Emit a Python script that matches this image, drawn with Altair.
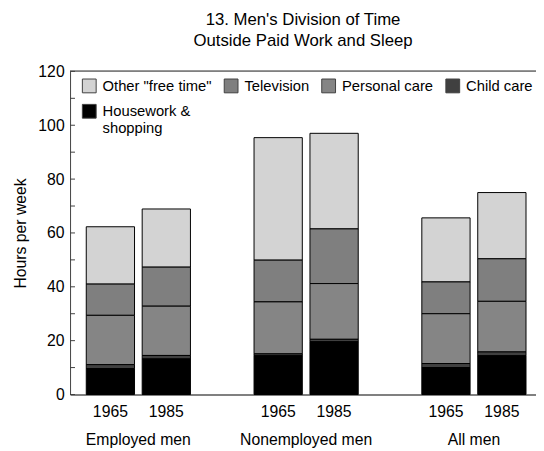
import altair as alt
import pandas as pd

groups = ["Employed men", "Nonemployed men", "All men"]
years = ["1965", "1985"]
categories = ['Other "free time"', "Television", "Personal care", "Child care", "Housework & shopping"]
colors = ["#d3d3d3", "#7f7f7f", "#858585", "#404040", "#000000"]

# values per bar: Employed 1965, Employed 1985, Nonemployed 1965, Nonemployed 1985, All 1965, All 1985
housework = [9.6, 13.2, 14.4, 19.6, 10.0, 14.4]
child_care = [1.5, 1.3, 0.7, 0.9, 1.5, 1.4]
personal_care = [18.3, 18.3, 19.3, 20.7, 18.5, 18.8]
television = [11.6, 14.5, 15.5, 20.3, 11.8, 15.8]
other_free = [21.3, 21.6, 45.5, 35.5, 23.8, 24.6]

y_ticks = list(range(0, 121, 10))

series = {
    'Other "free time"': other_free,
    "Television": television,
    "Personal care": personal_care,
    "Child care": child_care,
    "Housework & shopping": housework,
}
stack_idx = {"Housework & shopping": 0, "Child care": 1, "Personal care": 2,
             "Television": 3, 'Other "free time"': 4}

rows = []
bar_rows = []
for gi, g in enumerate(groups):
    for yi, yr in enumerate(years):
        k = gi * 2 + yi
        slot = gi * 3 + yi
        bar_rows.append({"slot": slot, "year": yr})
        for cat, vals in series.items():
            rows.append({"group": g, "year": yr, "slot": slot, "category": cat,
                         "value": vals[k], "order": stack_idx[cat]})
df = pd.DataFrame(rows)
years_df = pd.DataFrame(bar_rows)
groups_df = pd.DataFrame({"group": groups, "center": [gi * 3 + 0.5 for gi in range(len(groups))]})
ticks_df = pd.DataFrame({"t": y_ticks})

W, H = 473, 328
FONT = "Liberation Sans"

xscale = alt.Scale(domain=[-0.633, 7.522], nice=False, zero=False)
yscale = alt.Scale(domain=[0, 120], nice=False)

bars = alt.Chart(df).mark_bar(width=49, stroke="black", strokeWidth=1).encode(
    x=alt.X("slot:Q", scale=xscale,
            axis=alt.Axis(title=None, labels=False, ticks=False, grid=False,
                          domainColor="#808080", domainWidth=2)),
    y=alt.Y("value:Q", stack="zero", scale=yscale,
            axis=alt.Axis(title="Hours per week", values=list(range(0, 121, 20)),
                          ticks=False, grid=False, labelPadding=6,
                          domainColor="#404040", labelFontSize=16, titleFontSize=16,
                          titleFontWeight="normal", titlePadding=10, labelColor="black",
                          titleColor="black")),
    color=alt.Color("category:N", scale=alt.Scale(domain=categories, range=colors),
                    legend=alt.Legend(title=None, orient="none", legendX=12, legendY=7,
                                      direction="horizontal", columns=4, symbolType="square",
                                      symbolSize=196, symbolStrokeColor="#404040",
                                      symbolStrokeWidth=1, labelFontSize=15,
                                      labelFont=FONT, labelColor="black", columnPadding=10,
                                      rowPadding=7, labelOffset=6, labelLimit=300,
                                      labelExpr="datum.label == 'Housework & shopping' ? ['Housework &', 'shopping'] : datum.label")),
    order=alt.Order("order:Q"),
)

frame_top = alt.Chart(ticks_df).mark_rule(color="#808080", strokeWidth=1).encode(
    y=alt.datum(120, scale=yscale)
)

inner_ticks = alt.Chart(ticks_df).mark_rule(color="#404040", strokeWidth=1).encode(
    y=alt.Y("t:Q", scale=yscale),
    x=alt.value(0),
    x2=alt.value(5),
)

year_text = alt.Chart(years_df).mark_text(fontSize=16, font=FONT, baseline="alphabetic", color="black").encode(
    x=alt.X("slot:Q", scale=xscale),
    y=alt.value(H + 23),
    text="year:N",
)

group_text = alt.Chart(groups_df).mark_text(fontSize=16, font=FONT, baseline="alphabetic", color="black").encode(
    x=alt.X("center:Q", scale=xscale),
    y=alt.value(H + 51),
    text="group:N",
)

chart = alt.layer(bars, frame_top, inner_ticks, year_text, group_text).properties(
    width=W, height=H,
    padding={"left": 63, "top": 61, "right": 0, "bottom": 54},
    autosize=alt.AutoSizeParams(type="none"),
    title=alt.Title(["13. Men's Division of Time", "Outside Paid Work and Sleep"],
                    fontSize=17, fontWeight="normal", anchor="middle", offset=14,
                    lineHeight=21, font=FONT, color="black"),
).configure(font=FONT).configure_view(stroke=None).configure_axis(labelFont=FONT, titleFont=FONT)

chart.save("out.html", embed_options={"renderer": "svg", "actions": False})
